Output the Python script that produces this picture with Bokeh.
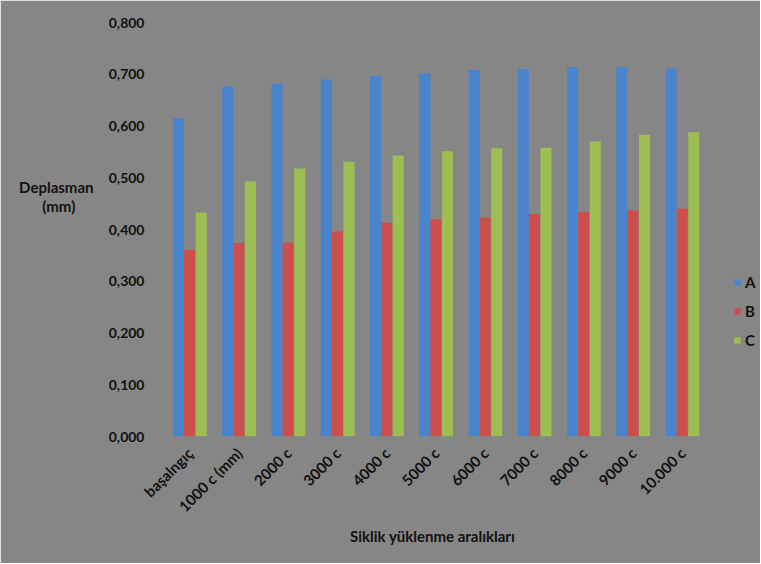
from bokeh.plotting import figure
from bokeh.models import ColumnDataSource, FixedTicker, Legend, LegendItem, LinearAxis
from bokeh.transform import dodge
from bokeh.embed import file_html
from bokeh.resources import INLINE
import math

categories = ["başalngıç", "1000 c (mm)", "2000 c", "3000 c", "4000 c", "5000 c",
              "6000 c", "7000 c", "8000 c", "9000 c", "10.000 c"]
series_a = [0.615, 0.677, 0.682, 0.690, 0.696, 0.702, 0.708, 0.710, 0.714, 0.714, 0.711]
series_b = [0.361, 0.374, 0.375, 0.396, 0.413, 0.420, 0.423, 0.430, 0.434, 0.437, 0.440]
series_c = [0.433, 0.493, 0.518, 0.531, 0.543, 0.551, 0.557, 0.558, 0.570, 0.583, 0.588]
y_ticks = [0.0, 0.1, 0.2, 0.3, 0.4, 0.5, 0.6, 0.7, 0.8]
y_tick_labels = ["0,000", "0,100", "0,200", "0,300", "0,400", "0,500", "0,600", "0,700", "0,800"]
series_names = ["A", "B", "C"]
x_title = "Siklik  yüklenme aralıkları"
y_title_lines = ["Deplasman", "(mm)"]

colors = ["#4a84cc", "#cc4f4b", "#9cbe52"]
BG = "#868686"
INK = "#111111"
FONT = "Lato"

xs = list(range(len(categories)))
src = ColumnDataSource(dict(x=xs, A=series_a, B=series_b, C=series_c))

p = figure(width=760, height=563, output_backend="svg", toolbar_location=None,
           x_range=(-0.5, 11.58), y_range=(0, 0.8),
           min_border_left=165, min_border_top=22, min_border_bottom=127, min_border_right=0)
p.background_fill_color = BG
p.border_fill_color = BG
p.outline_line_color = BG
p.outline_line_width = 2
p.grid.visible = False

offsets = [-0.235, -0.01, 0.225]
renderers = []
for name, col, off in zip(series_names, colors, offsets):
    r = p.vbar(x=dodge("x", off), top=name, width=0.225, bottom=0, source=src,
               fill_color=col, line_color=None)
    renderers.append(r)


def style_axis(ax, size="15px"):
    ax.axis_line_color = None
    ax.major_tick_line_color = None
    ax.minor_tick_line_color = None
    ax.major_label_text_font = FONT
    ax.major_label_text_font_style = "bold"
    ax.major_label_text_font_size = size
    ax.major_label_text_color = INK


# main axes
p.yaxis.ticker = FixedTicker(ticks=y_ticks)
p.yaxis.major_label_overrides = {t: l for t, l in zip(y_ticks, y_tick_labels)}
p.xaxis.ticker = FixedTicker(ticks=xs)
p.xaxis.major_label_overrides = {i: c for i, c in zip(xs, categories)}
p.xaxis.major_label_orientation = math.pi / 4
style_axis(p.xaxis[0], "15px")
style_axis(p.yaxis[0], "14px")
p.yaxis.major_label_standoff = 15
p.xaxis.major_label_standoff = 8

# x-axis title as a one-tick axis placed under the category labels
x_title_pos = 4.96
xt = LinearAxis(ticker=FixedTicker(ticks=[x_title_pos]),
                major_label_overrides={x_title_pos: x_title},
                major_label_standoff=-4)
style_axis(xt, "15px")
p.add_layout(xt, "below")

# y-axis title (horizontal, two lines) as a two-tick axis on the left
y_title_pos = [0.483, 0.446]
yt = LinearAxis(ticker=FixedTicker(ticks=y_title_pos),
                major_label_overrides={y_title_pos[0]: y_title_lines[0],
                                       y_title_pos[1]: y_title_lines[1] + "\u00a0" * 5},
                major_label_orientation="horizontal",
                major_label_standoff=6)
style_axis(yt, "15px")
p.add_layout(yt, "left")

legend = Legend(items=[LegendItem(label=n, renderers=[r]) for n, r in zip(series_names, renderers)],
                location=(568, 86), background_fill_alpha=0, border_line_color=None,
                padding=0, margin=0, spacing=9, glyph_width=8, glyph_height=8,
                label_height=20, label_text_font=FONT, label_text_font_style="bold",
                label_text_font_size="15px", label_text_color=INK,
                label_standoff=4)
p.add_layout(legend)

open("out.html", "w").write(file_html(p, INLINE))
